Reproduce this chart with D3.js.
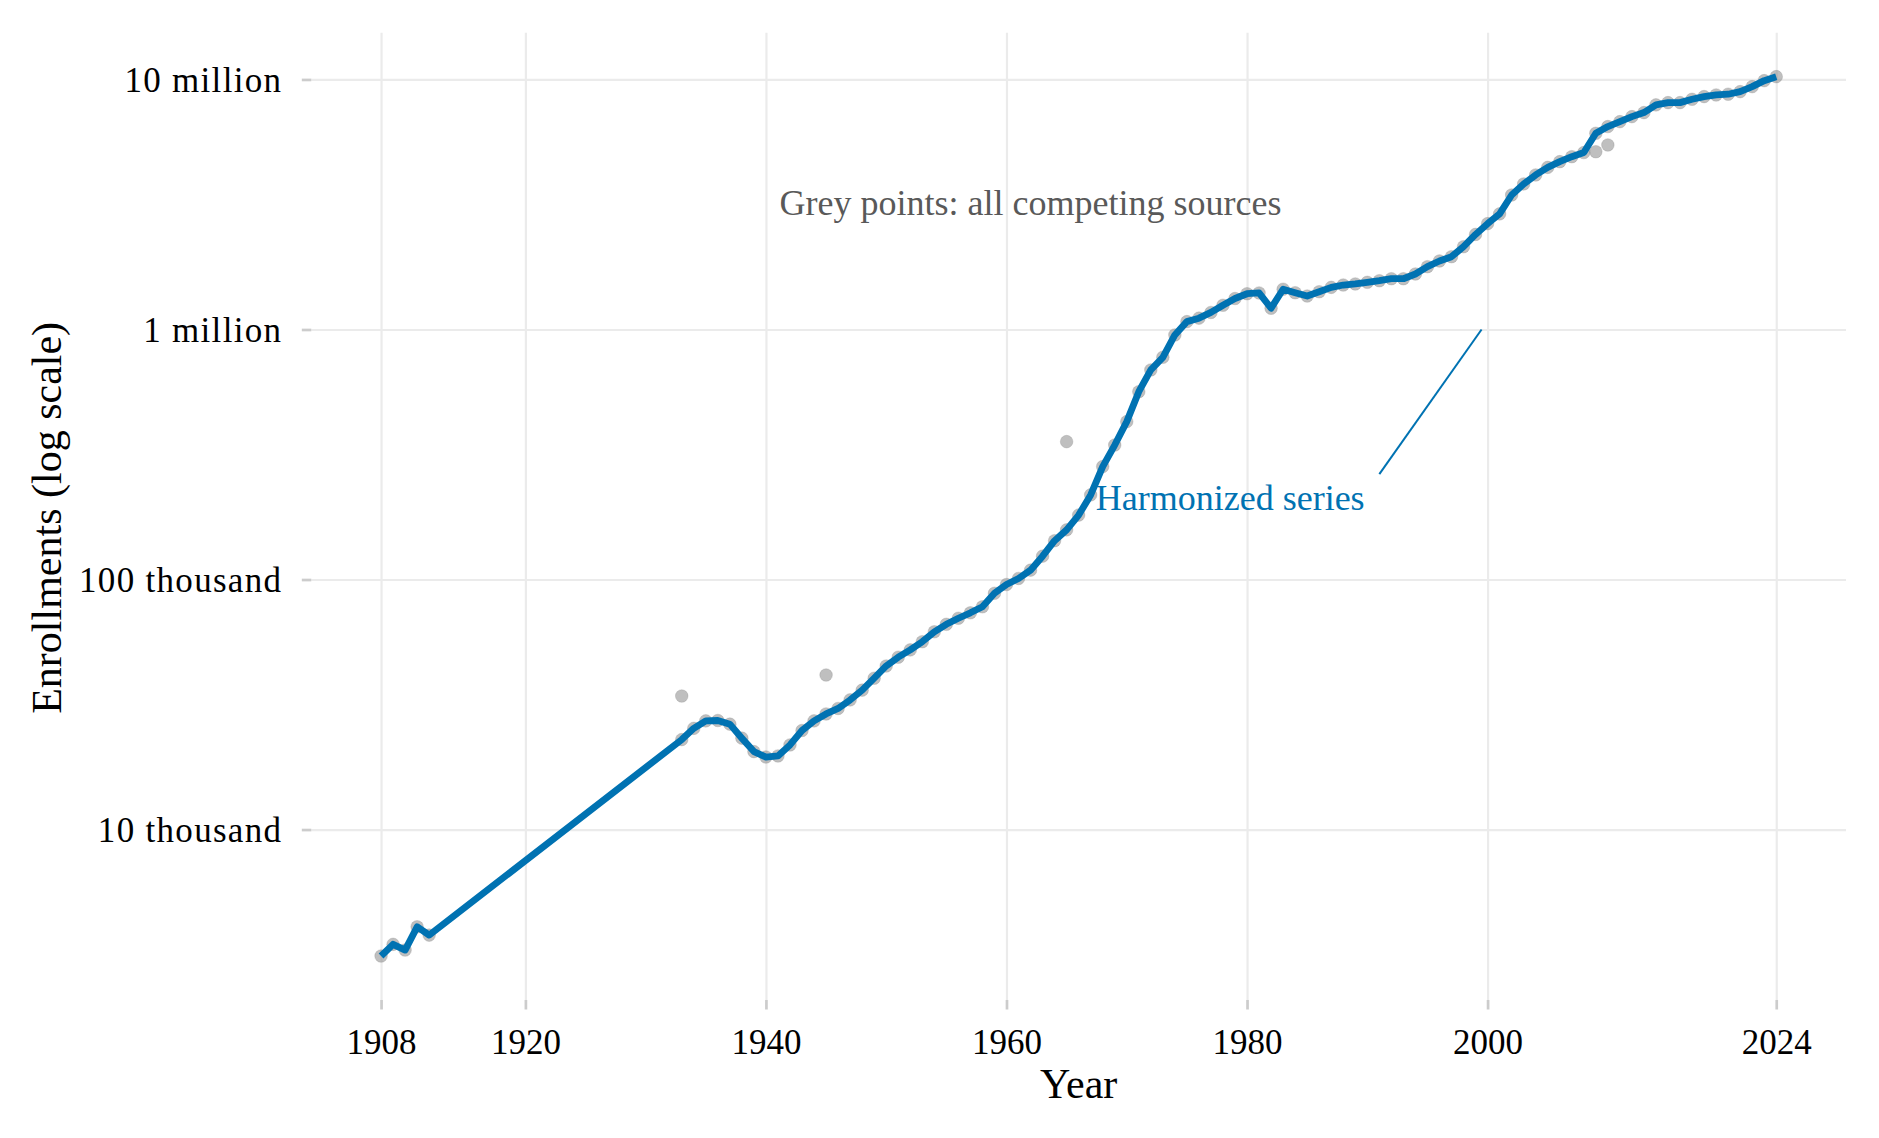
<!DOCTYPE html>
<html>
<head>
<meta charset="utf-8">
<script src="https://cdn.jsdelivr.net/npm/d3@7"></script>
<style>
	body { margin: 0; background: #fff; }
	text { font-family: "Liberation Serif", "Times New Roman", serif; }
</style>
</head>
<body>
<div id="chart"></div>
<script>
// Enrollments over time, harmonized series vs competing sources
const width = 1879;
const height = 1138;
const margin = { top: 32.7, right: 33, bottom: 138, left: 311.3 };

// data
const years = [
	1908, 1909, 1910, 1911, 1912,
	1933, 1934, 1935, 1936, 1937, 1938, 1939, 1940, 1941, 1942, 1943, 1944, 1945, 1946, 1947, 1948, 1949,
	1950, 1951, 1952, 1953, 1954, 1955, 1956, 1957, 1958, 1959, 1960, 1961, 1962, 1963, 1964, 1965, 1966,
	1967, 1968, 1969, 1970, 1971, 1972, 1973, 1974, 1975, 1976, 1977, 1978, 1979, 1980, 1981, 1982, 1983,
	1984, 1985, 1986, 1987, 1988, 1989, 1990, 1991, 1992, 1993, 1994, 1995, 1996, 1997, 1998, 1999, 2000,
	2001, 2002, 2003, 2004, 2005, 2006, 2007, 2008, 2009, 2010, 2011, 2012, 2013, 2014, 2015, 2016, 2017,
	2018, 2019, 2020, 2021, 2022, 2023, 2024
];
const harmonized = [
	3120, 3475, 3296, 4083, 3783,
	22900, 25400, 27200, 27300, 26400, 23200, 20500, 19500, 19700, 21800, 24900, 27200, 29000, 30500, 33000, 36100, 40300,
	45100, 48900, 52300, 56400, 61800, 66200, 70000, 73600, 77800, 88100, 95500, 101000, 109000, 124000, 143000, 158000, 181000,
	218000, 283000, 345000, 428000, 564000, 689000, 774000, 951000, 1075000, 1110000, 1170000, 1250000, 1330000, 1390000, 1400000, 1216000, 1449000,
	1403000, 1361000, 1416000, 1474000, 1506000, 1521000, 1544000, 1567000, 1596000, 1596000, 1667000, 1783000, 1879000, 1955000, 2143000, 2400000, 2650000,
	2900000, 3450000, 3820000, 4150000, 4450000, 4690000, 4910000, 5100000, 6090000, 6480000, 6780000, 7100000, 7370000, 7910000, 8080000, 8080000, 8330000,
	8540000, 8670000, 8730000, 8940000, 9360000, 9890000, 10260000
];
// competing source values that differ from the harmonized one
const otherYears = [1933, 1945, 1965, 2009, 2010];
const otherValues = [34200, 41500, 356000, 5140000, 5470000];

const xTicks = [1908, 1920, 1940, 1960, 1980, 2000, 2024];
const yTicks = [1e4, 1e5, 1e6, 1e7];
const yTickLabels = ["10 thousand", "100 thousand", "1 million", "10 million"];

const series = years.map((d, i) => ({ year: d, value: harmonized[i] }));
const points = series.concat(otherYears.map((d, i) => ({ year: d, value: otherValues[i] })));

const svg = d3
	.select("#chart")
	.append("svg")
	.attr("width", width)
	.attr("height", height);

// ggplot-like 5% expansion
const xExt = d3.extent(points, (d) => d.year);
const xPad = (xExt[1] - xExt[0]) * 0.05;
const x = d3
	.scaleLinear()
	.domain([xExt[0] - xPad, xExt[1] + xPad])
	.range([margin.left, width - margin.right]);

const yExt = d3.extent(points, (d) => Math.log10(d.value));
const yPad = (yExt[1] - yExt[0]) * 0.05;
const y = d3
	.scaleLog()
	.domain([Math.pow(10, yExt[0] - yPad), Math.pow(10, yExt[1] + yPad)])
	.range([height - margin.bottom, margin.top]);

const panelBottom = height - margin.bottom;

// grid
svg.append("g")
	.attr("transform", `translate(0,${panelBottom})`)
	.call(d3.axisBottom(x).tickValues(xTicks).tickSize(-(panelBottom - margin.top)).tickFormat(""))
	.call((g) => g.select(".domain").remove())
	.call((g) => g.selectAll("line").attr("stroke", "#ebebeb").attr("stroke-width", 2.2));

svg.append("g")
	.attr("transform", `translate(${margin.left},0)`)
	.call(d3.axisLeft(y).tickValues(yTicks).tickSize(-(width - margin.right - margin.left)).tickFormat(""))
	.call((g) => g.select(".domain").remove())
	.call((g) => g.selectAll("line").attr("stroke", "#ebebeb").attr("stroke-width", 2.2));

// axes
const xAxis = svg.append("g")
	.attr("transform", `translate(0,${panelBottom})`)
	.call(d3.axisBottom(x).tickValues(xTicks).tickSize(9.5).tickFormat((d) => d));
xAxis.select(".domain").remove();
xAxis.selectAll("line").attr("stroke", "#cccccc").attr("stroke-width", 2.7);
xAxis.selectAll("text")
	.attr("y", 54)
	.attr("dy", null)
	.attr("fill", "#000")
	.style("font-size", "35px");

const yAxis = svg.append("g")
	.attr("transform", `translate(${margin.left},0)`)
	.call(d3.axisLeft(y).tickValues(yTicks).tickSize(9.5).tickPadding(19.5)
		.tickFormat((d, i) => yTickLabels[i]));
yAxis.select(".domain").remove();
yAxis.selectAll("line").attr("stroke", "#cccccc").attr("stroke-width", 2.7);
yAxis.selectAll("text")
	.attr("dy", "0.33em")
	.attr("fill", "#000")
	.style("font-size", "35px")
	.style("letter-spacing", "1.3px");

// axis titles
svg.append("text")
	.attr("x", (margin.left + width - margin.right) / 2)
	.attr("y", 1098)
	.attr("text-anchor", "middle")
	.style("font-size", "42px")
	.text("Year");

svg.append("text")
	.attr("transform", `translate(61,${(margin.top + panelBottom) / 2 + 1.5}) rotate(-90)`)
	.attr("text-anchor", "middle")
	.style("font-size", "42px")
	.text("Enrollments (log scale)");

// grey points: all sources
svg.append("g")
	.selectAll("circle")
	.data(points)
	.join("circle")
	.attr("cx", (d) => x(d.year))
	.attr("cy", (d) => y(d.value))
	.attr("r", 6.3)
	.attr("fill", "#7f7f7f")
	.attr("fill-opacity", 0.5)
	.attr("stroke", "#7f7f7f")
	.attr("stroke-opacity", 0.25)
	.attr("stroke-width", 1);

// harmonized line
const line = d3.line()
	.x((d) => x(d.year))
	.y((d) => y(d.value));

svg.append("path")
	.datum(series)
	.attr("d", line)
	.attr("fill", "none")
	.attr("stroke", "#0072B2")
	.attr("stroke-width", 6.8)
	.attr("stroke-linejoin", "round")
	.attr("stroke-linecap", "butt");

// annotations
svg.append("text")
	.attr("x", x(1962))
	.attr("y", y(2.87e6))
	.attr("text-anchor", "middle")
	.attr("fill", "#595959")
	.style("font-size", "36px")
	.text("Grey points: all competing sources");

svg.append("line")
	.attr("x1", x(1991))
	.attr("y1", y(2.64e5))
	.attr("x2", x(1999.5))
	.attr("y2", y(1e6))
	.attr("stroke", "#0072B2")
	.attr("stroke-width", 2);

svg.append("text")
	.attr("x", x(1978.6))
	.attr("y", y(1.9e5))
	.attr("text-anchor", "middle")
	.attr("fill", "#0072B2")
	.style("font-size", "36px")
	.text("Harmonized series");
</script>
</body>
</html>
